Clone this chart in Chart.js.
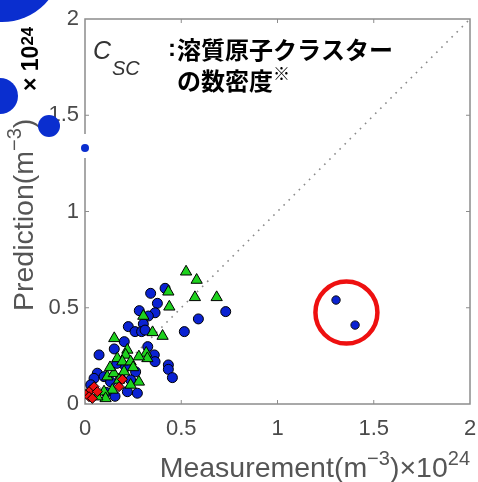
<!DOCTYPE html>
<html>
<head>
<meta charset="utf-8">
<script src="https://cdn.jsdelivr.net/npm/chart.js@4/dist/chart.umd.min.js"></script>
<style>
  html, body { margin: 0; padding: 0; background: #fff; }
  #wrap { position: relative; width: 478px; height: 482px; }
  canvas { display: block; }
</style>
</head>
<body>
<div id="wrap"><canvas id="c" width="478" height="482"></canvas></div>
<script>
// Axis ticks (both axes share the same range)
const tickValues = [0, 0.5, 1, 1.5, 2];
const tickLabels = ['0', '0.5', '1', '1.5', '2'];

// Blue series: measured vs predicted (×10^24 m^-3)
const blueMeasured  = [0.416, 0.341, 0.376, 0.282, 0.364, 0.329, 0.303, 0.225, 0.260, 0.294,
                       0.731, 0.589, 0.516, 0.204, 0.152, 0.073, 0.326, 0.360, 0.364, 0.433,
                       0.433, 0.454, 0.165, 0.211, 0.263, 0.272, 0.064, 0.047, 0.099, 0.133,
                       0.185, 0.237, 0.220, 0.156, 0.030, 0.110, 0.312];
const bluePredicted = [0.601, 0.575, 0.523, 0.485, 0.474, 0.457, 0.416, 0.402, 0.376, 0.376,
                       0.480, 0.442, 0.376, 0.324, 0.286, 0.255, 0.298, 0.255, 0.220, 0.203,
                       0.180, 0.137, 0.211, 0.193, 0.167, 0.056, 0.160, 0.133, 0.142, 0.115,
                       0.133, 0.125, 0.064, 0.040, 0.100, 0.060, 0.384];

// Green series
const greenMeasured  = [0.525, 0.580, 0.684, 0.571, 0.433, 0.438, 0.303, 0.351, 0.403, 0.152,
                        0.220, 0.318, 0.324, 0.211, 0.280, 0.168, 0.194, 0.237, 0.116, 0.150,
                        0.203, 0.280, 0.237, 0.177, 0.142, 0.099, 0.107, 0.064, 0.250, 0.130];
const greenPredicted = [0.687, 0.644, 0.554, 0.554, 0.583, 0.505, 0.457, 0.372, 0.353, 0.341,
                        0.281, 0.265, 0.237, 0.255, 0.246, 0.237, 0.220, 0.220, 0.142, 0.159,
                        0.168, 0.115, 0.099, 0.125, 0.073, 0.064, 0.029, 0.038, 0.190, 0.190];

// Red series
const redMeasured  = [0.012, 0.030, 0.047, 0.021, 0.038, 0.194, 0.177, 0.064];
const redPredicted = [0.056, 0.073, 0.090, 0.038, 0.029, 0.128, 0.090, 0.064];

// Two outlying blue points, ringed
const outlierMeasured  = [1.304, 1.403];
const outlierPredicted = [0.540, 0.410];
const ringCenter = [1.358, 0.475];

const pairs = (xs, ys) => xs.map((v, i) => ({ x: v, y: ys[i] }));

const FONT = "'Liberation Sans', Arial, sans-serif";
const JP = "'Noto Sans CJK JP', 'Noto Sans', sans-serif";
const BLUE = '#0a22d2';
const GREEN = '#1ed21e';
const RED = '#ee1010';

// draw a run of text pieces, each with its own size and baseline rise
function drawRuns(ctx, runs, x, y, align) {
  let total = 0;
  runs.forEach(r => { ctx.font = r.font; r.w = ctx.measureText(r.t).width; total += r.w; });
  let cx = align === 'right' ? x - total : x;
  ctx.textAlign = 'left';
  ctx.textBaseline = 'alphabetic';
  runs.forEach(r => { ctx.font = r.font; ctx.fillStyle = r.color; ctx.fillText(r.t, cx, y - (r.rise || 0)); cx += r.w; });
}

// plot frame with inward tick marks
const framePlugin = {
  id: 'frame',
  beforeDatasetsDraw(chart) {
    const { ctx, chartArea: a, scales: { x, y } } = chart;
    ctx.save();
    ctx.strokeStyle = '#8c8c8c';
    ctx.lineWidth = 1.5;
    ctx.strokeRect(a.left, a.top, a.right - a.left, a.bottom - a.top);
    ctx.lineWidth = 1;
    ctx.beginPath();
    tickValues.slice(1, -1).forEach(v => {
      const px = x.getPixelForValue(v), py = y.getPixelForValue(v);
      ctx.moveTo(px, a.bottom); ctx.lineTo(px, a.bottom - 4);
      ctx.moveTo(px, a.top); ctx.lineTo(px, a.top + 4);
      ctx.moveTo(a.left, py); ctx.lineTo(a.left + 4, py);
      ctx.moveTo(a.right, py); ctx.lineTo(a.right - 4, py);
    });
    ctx.stroke();
    ctx.restore();
  }
};

// titles, annotation text and the page ornaments
const textPlugin = {
  id: 'texts',
  afterDraw(chart) {
    const ctx = chart.ctx;
    ctx.save();
    const grey = '#555';
    // x-axis title
    drawRuns(ctx, [
      { t: 'Measurement(m', font: `28.5px ${FONT}`, color: grey },
      { t: '\u22123', font: `20px ${FONT}`, color: grey, rise: 12 },
      { t: ')\u00d710', font: `28.5px ${FONT}`, color: grey },
      { t: '24', font: `20px ${FONT}`, color: grey, rise: 12 }
    ], chart.chartArea.right, 477, 'right');

    // y-axis title (rotated)
    ctx.save();
    ctx.translate(33, 311);
    ctx.rotate(-Math.PI / 2);
    drawRuns(ctx, [
      { t: 'Prediction(m', font: `28.5px ${FONT}`, color: grey },
      { t: '\u22123', font: `20px ${FONT}`, color: grey, rise: 12 },
      { t: ')', font: `28.5px ${FONT}`, color: grey }
    ], 0, 0, 'left');
    ctx.restore();

    // multiplier
    ctx.save();
    ctx.translate(38, 91);
    ctx.rotate(-Math.PI / 2);
    drawRuns(ctx, [
      { t: '\u00d7 10', font: `bold 23px ${FONT}`, color: '#000' },
      { t: '24', font: `bold 17px ${FONT}`, color: '#000', rise: 5 }
    ], 0, 0, 'left');
    ctx.restore();

    // annotation
    drawRuns(ctx, [{ t: 'C', font: `italic 25px ${FONT}`, color: '#333' }], 93, 59, 'left');
    drawRuns(ctx, [{ t: 'SC', font: `italic 20px ${FONT}`, color: '#333' }], 112, 75, 'left');
    ctx.fillStyle = '#000';
    ctx.textBaseline = 'middle';
    ctx.textAlign = 'left';
    ctx.font = `bold 24px ${FONT}`;
    ctx.fillText(':', 168, 49);
    ctx.font = `bold 24px ${JP}`;
    ctx.fillText('溶質原子クラスター', 177, 50);
    ctx.fillText('の数密度', 177, 81);
    ctx.font = `bold 17px ${JP}`;
    ctx.fillText('※', 273, 74);

    // ornaments at the left edge
    ctx.fillStyle = '#fff';
    ctx.fillRect(81, 134, 9, 24);
    ctx.fillStyle = '#0a2ecf';
    [[2, -38, 60], [0, 96, 18], [49, 126, 11], [85, 148, 4]].forEach(([cx, cy, r]) => {
      ctx.beginPath(); ctx.arc(cx, cy, r, 0, Math.PI * 2); ctx.fill();
    });
    ctx.restore();
  }
};

// keep tick-label overhang from shrinking the plotting area
function fixBox(scale, key, size) {
  scale[key] = size;
  scale.paddingLeft = 0; scale.paddingRight = 0;
  scale.paddingTop = 0; scale.paddingBottom = 0;
}

const axisCommon = {
  type: 'linear',
  min: 0, max: 2,
  grid: { display: false, drawTicks: false },
  border: { display: false },
  afterBuildTicks(scale) { scale.ticks = tickValues.map(v => ({ value: v })); },
};

new Chart(document.getElementById('c'), {
  type: 'scatter',
  data: {
    datasets: [
      { label: 'red', data: pairs(redMeasured, redPredicted), pointStyle: 'rectRot', pointRadius: 5,
        backgroundColor: RED, borderColor: '#000', borderWidth: 1 },
      { label: 'green', data: pairs(greenMeasured, greenPredicted), pointStyle: 'triangle', pointRadius: 6.5,
        backgroundColor: GREEN, borderColor: '#000', borderWidth: 1 },
      { label: 'blue', data: pairs(blueMeasured, bluePredicted), pointStyle: 'circle', pointRadius: 5,
        backgroundColor: BLUE, borderColor: '#000', borderWidth: 1 },
      { label: 'outliers', data: pairs(outlierMeasured, outlierPredicted), pointStyle: 'circle', pointRadius: 4.2,
        backgroundColor: BLUE, borderColor: '#111', borderWidth: 1 },
      { label: 'ring', data: [{ x: ringCenter[0], y: ringCenter[1] }], pointStyle: 'circle', pointRadius: 31,
        backgroundColor: 'rgba(0,0,0,0)', borderColor: RED, borderWidth: 4.5 },
      { label: 'y = x', type: 'line', data: [{ x: 0, y: 0 }, { x: 2, y: 2 }], pointRadius: 0,
        borderColor: '#8a8a8a', borderWidth: 1.6, borderDash: [1.6, 5.6], fill: false }
    ]
  },
  options: {
    responsive: false,
    animation: false,
    devicePixelRatio: 1,
    layout: { autoPadding: false, padding: { left: 0, top: 19, right: 8, bottom: 0 } },
    plugins: { legend: { display: false }, tooltip: { enabled: false } },
    scales: {
      x: Object.assign({}, axisCommon, {
        position: 'bottom',
        ticks: { color: '#4a4a4a', font: { family: FONT, size: 22 }, padding: 12, maxRotation: 0,
                 callback: (v) => tickLabels[tickValues.indexOf(v)] },
        afterFit(scale) { fixBox(scale, 'height', 78); }
      }),
      y: Object.assign({}, axisCommon, {
        position: 'left',
        ticks: { color: '#4a4a4a', font: { family: FONT, size: 22 }, padding: 6,
                 callback: (v) => tickLabels[tickValues.indexOf(v)] },
        afterFit(scale) { fixBox(scale, 'width', 85); }
      })
    }
  },
  plugins: [framePlugin, textPlugin]
});
</script>
</body>
</html>
